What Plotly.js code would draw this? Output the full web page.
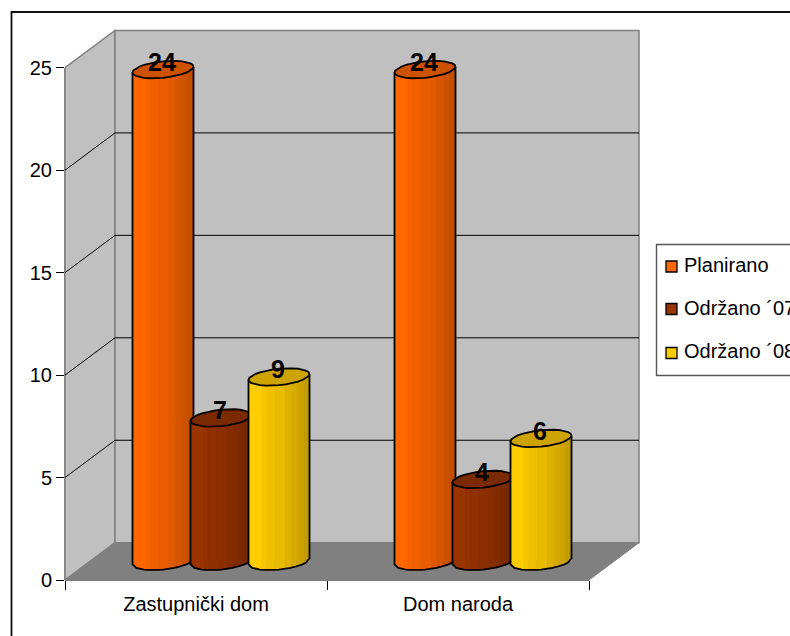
<!DOCTYPE html>
<html>
<head>
<meta charset="utf-8">
<script src="https://cdn.plot.ly/plotly-3.0.1.min.js"></script>
<style>html,body{margin:0;padding:0;background:#fff;overflow:hidden}#c{width:790px;height:636px}</style>
</head>
<body>
<div id="c"></div>
<script>
// ---- data ----
const categories = ['Zastupnički dom', 'Dom naroda'];
const seriesNames = ['Planirano', 'Održano ´07', 'Održano ´08'];
const planirano = [24, 24];
const odrzano07 = [7, 4];
const odrzano08 = [9, 6];
const seriesValues = [planirano, odrzano07, odrzano08];
const seriesColors = [[255,102,0], [153,51,0], [255,204,0]];
const yTicks = [0, 5, 10, 15, 20, 25];

// ---- geometry ----
const W = 790, H = 636, L = 65, B = 580;
const PXX = 262, PXY = 20.49;
const DX = 50 / PXX, DY = 37.3 / PXY;
const bandEdges = [0, .22, .3, .43, .6, .7, .8, .9, 1];
const bandShade = [1, .97, .94, .91, .87, .84, .8, .76];
const A = 30.5, Bb = 8.2, TILT = 2.9, STEP = 58;

const shade = (c, f) => `rgb(${c.map(v => Math.round(v * f)).join(',')})`;
const px = x => (x - L) / (W - L);
const py = y => (B - y) / B;

function centre(i, j) { return j + .5 + DX / 2 + (i - 1) * STEP / PXX; }
const floorY = DY / 2;
function lower(cx, x) {
  const c = Math.max(-1, Math.min(1, (x - cx) * PXX / A));
  return floorY + (TILT * c - Bb * Math.sqrt(1 - c * c)) / PXY;
}

const traces = [];
// Base bars, one per series
seriesValues.forEach((vals, i) => traces.push({
  type: 'bar', name: seriesNames[i],
  x: categories.map((_, j) => centre(i, j)),
  y: vals, base: vals.map(() => floorY),
  width: 2 * A / PXX, marker: {color: shade(seriesColors[i], 1), line: {width: 0}},
  showlegend: false, hoverinfo: 'y'
}));
// Cylinder shading, painted in series order
seriesValues.forEach((vals, i) => vals.forEach((v, j) => {
  const cx = centre(i, j), a = A / PXX, top = v + floorY, col = seriesColors[i];
  bandShade.forEach((f, k) => {
    const x0 = cx - a + 2 * a * bandEdges[k], x1 = cx - a + 2 * a * bandEdges[k + 1], xm = (x0 + x1) / 2;
    const tiltAt = x => (x - cx) * PXX / A * TILT / PXY;
    traces.push({
      type: 'scatter', mode: 'lines', fill: 'toself', fillcolor: shade(col, f),
      line: {width: .5, color: shade(col, f)}, showlegend: false, hoverinfo: 'skip',
      x: [x0, x0, xm, x1, x1],
      y: [top + tiltAt(x0), lower(cx, x0), lower(cx, xm), lower(cx, x1), top + tiltAt(x1)]
    });
  });
  // outline of the body
  const ox = [], oy = [];
  ox.push(cx - a); oy.push(top - TILT / PXY);
  for (let t = 0; t <= 16; t++) { const x = cx - a + 2 * a * t / 16; ox.push(x); oy.push(lower(cx, x)); }
  ox.push(cx + a); oy.push(top + TILT / PXY);
  traces.push({type: 'scatter', mode: 'lines', x: ox, y: oy, line: {color: '#000', width: 1.8}, showlegend: false, hoverinfo: 'skip'});
  // top cap
  const cxs = [], cys = [];
  for (let t = 0; t <= 28; t++) {
    const th = t / 28 * 2 * Math.PI, c = Math.cos(th), s = Math.sin(th);
    cxs.push(cx + a * c); cys.push(top + (TILT * c + Bb * s) / PXY);
  }
  traces.push({type: 'scatter', mode: 'lines', x: cxs, y: cys, fill: 'toself', fillcolor: shade(col, .8),
    line: {color: '#000', width: 1.8}, showlegend: false, hoverinfo: 'skip'});
}));
// Value labels
seriesValues.forEach((vals, i) => traces.push({
  type: 'scatter', mode: 'text', name: seriesNames[i],
  x: categories.map((_, j) => centre(i, j) - 1 / PXX),
  y: vals.map(v => v + floorY + 5 / PXY),
  text: vals.map(String), textposition: 'middle center',
  textfont: {family: 'Liberation Sans', size: 25, color: '#000', weight: 'bold'},
  cliponaxis: false, showlegend: false, hoverinfo: 'skip'
}));

// ---- structure ----
const shapes = [];
const D = (x0, y0, x1, y1, col, w) => ({type: 'line', xref: 'x', yref: 'y', x0, y0, x1, y1, layer: 'below', line: {color: col, width: w}});
const poly = (pts, fill, col, w) => ({type: 'path', xref: 'x', yref: 'y', layer: 'below', fillcolor: fill,
  line: {color: col, width: w}, path: 'M' + pts.map(p => p.join(',')).join('L') + 'Z'});
const yMax = yTicks[yTicks.length - 1], xMax = categories.length;
// left wall, back wall, floor
shapes.push(poly([[0,0],[DX,DY],[DX,yMax+DY],[0,yMax]], '#C0C0C0', '#808080', 1.5));
shapes.push(poly([[DX,DY],[xMax+DX,DY],[xMax+DX,yMax+DY],[DX,yMax+DY]], '#C0C0C0', '#808080', 1.5));
shapes.push(poly([[0,0],[xMax,0],[xMax+DX,DY],[DX,DY]], '#808080', '#808080', 1));
// gridlines
yTicks.slice(1, -1).forEach(v => {
  shapes.push(D(0, v, DX, v + DY, '#000', 1));
  shapes.push(D(DX, v + DY, xMax + DX, v + DY, '#000', 1));
});
// axis lines
const pl = (x0, y0, x1, y1, col, w, layer) => ({type: 'line', xref: 'paper', yref: 'paper', x0: px(x0), y0: py(y0), x1: px(x1), y1: py(y1), layer: layer || 'above', line: {color: col, width: w}});
shapes.push(pl(65, B - yMax * PXY, 65, B, '#000', 1, 'below'));
shapes.push(pl(65, B, 65 + xMax * PXX, B, '#000', 1, 'below'));
// chart frame
shapes.push({type: 'rect', xref: 'paper', yref: 'paper', x0: px(11.5), y0: py(12), x1: px(820), y1: py(680),
  layer: 'below', line: {color: '#111', width: 1.8}, fillcolor: 'rgba(0,0,0,0)'});
// legend box and swatches
shapes.push({type: 'rect', xref: 'paper', yref: 'paper', x0: px(656.5), y0: py(244.5), x1: px(820), y1: py(375.5),
  layer: 'above', line: {color: '#555', width: 1.4}, fillcolor: '#fff'});
const legendY = [266.5, 309, 353];
const legendTextY = [265, 307.5, 351];
const annotations = [];
seriesNames.forEach((n, i) => {
  shapes.push({type: 'rect', xref: 'paper', yref: 'paper', x0: px(666), x1: px(677), y0: py(legendY[i] - 5.5), y1: py(legendY[i] + 5.5),
    layer: 'above', line: {color: '#000', width: 1.3}, fillcolor: shade(seriesColors[i], 1)});
  annotations.push({xref: 'paper', yref: 'paper', x: px(681.5), y: py(legendTextY[i]), xanchor: 'left', yanchor: 'middle',
    text: n, showarrow: false, font: {family: 'Liberation Sans', size: 20, color: '#000'}, align: 'left'});
});

const layout = {
  width: W, height: H, autosize: false, showlegend: false,
  paper_bgcolor: '#fff', plot_bgcolor: 'rgba(0,0,0,0)',
  margin: {l: L, r: 0, t: 0, b: H - B, pad: 0},
  barmode: 'overlay',
  font: {family: 'Liberation Sans', size: 20, color: '#000'},
  xaxis: {
    range: [0, (W - L) / PXX], showgrid: false, zeroline: false, showline: false, fixedrange: true,
    tickmode: 'array', tickvals: categories.map((_, j) => j + .5), ticktext: categories, ticks: '',
    tickfont: {family: 'Liberation Sans', size: 20, color: '#000'}, ticklabelstandoff: 10,
    minor: {tickmode: 'array', tickvals: [0, 1, 2], ticks: 'outside', ticklen: 9, tickwidth: 1, tickcolor: '#000', showgrid: false}
  },
  yaxis: {
    range: [0, B / PXY], showgrid: false, zeroline: false, showline: false, fixedrange: true,
    tickmode: 'array', tickvals: yTicks, ticks: 'outside', ticklen: 8, tickwidth: 1, tickcolor: '#000',
    tickfont: {family: 'Liberation Sans', size: 20, color: '#000'}
  },
  shapes, annotations
};
Plotly.newPlot('c', traces, layout, {displayModeBar: false, staticPlot: true});
</script>
</body>
</html>
